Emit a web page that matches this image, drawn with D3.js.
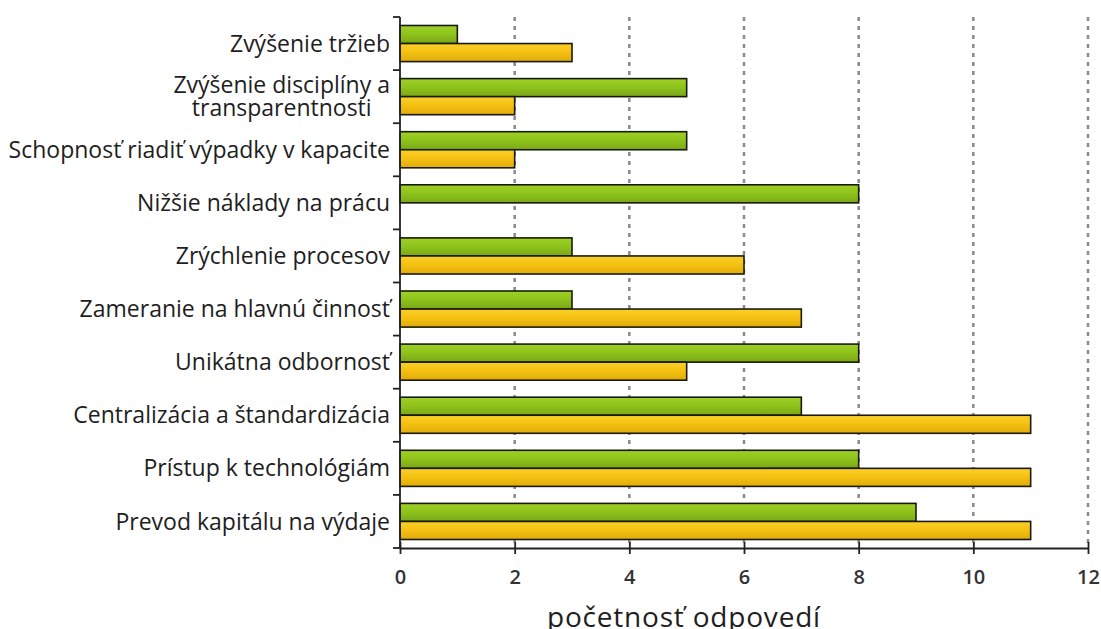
<!DOCTYPE html>
<html>
<head>
<meta charset="utf-8">
<script src="https://cdn.jsdelivr.net/npm/d3@7"></script>
<style>
  html, body { margin: 0; padding: 0; background: #fff; }
  svg { display: block; }
</style>
</head>
<body>
<svg id="chart" width="1101" height="629"></svg>
<script>
// Response categories (top to bottom); multi-line labels use "\n"
const categories = [
  "Zvýšenie tržieb",
  "Zvýšenie disciplíny a\ntransparentnosti",
  "Schopnosť riadiť výpadky v kapacite",
  "Nižšie náklady na prácu",
  "Zrýchlenie procesov",
  "Zameranie na hlavnú činnosť",
  "Unikátna odbornosť",
  "Centralizácia a štandardizácia",
  "Prístup k technológiám",
  "Prevod kapitálu na výdaje"
];
const greenValues  = [1, 5, 5, 8, 3, 3, 8, 7, 8, 9];
const yellowValues = [3, 2, 2, 0, 6, 7, 5, 11, 11, 11];
const xTicks = [0, 2, 4, 6, 8, 10, 12];
const xTitle = "početnosť odpovedí";

const svg = d3.select("#chart");
const margin = { left: 400, right: 13, top: 17, bottom: 81 };
const W = 1101, H = 629;
const plotW = W - margin.left - margin.right;
const plotH = H - margin.top - margin.bottom;

const defs = svg.append("defs");
function grad(id, top, mid, bottom) {
  const g = defs.append("linearGradient").attr("id", id)
    .attr("x1", 0).attr("y1", 0).attr("x2", 0).attr("y2", 1);
  g.append("stop").attr("offset", "0%").attr("stop-color", top);
  g.append("stop").attr("offset", "45%").attr("stop-color", mid);
  g.append("stop").attr("offset", "100%").attr("stop-color", bottom);
}
grad("gGreen", "#9fd127", "#8fc41c", "#7aa816");
grad("gYellow", "#fbd02a", "#f5c212", "#e0ab0a");

const g = svg.append("g").attr("transform", `translate(${margin.left},${margin.top})`);

const x = d3.scaleLinear().domain([0, 12]).range([0, plotW]);
const y = d3.scaleBand().domain(categories).range([0, plotH])
  .paddingInner(0.32).paddingOuter(0.16);
const sub = d3.scaleBand().domain(["green", "yellow"]).range([0, y.bandwidth()]);

// dotted vertical gridlines
g.selectAll("line.grid").data(xTicks.filter(t => t > 0)).join("line")
  .attr("class", "grid")
  .attr("x1", d => x(d)).attr("x2", d => x(d))
  .attr("y1", 0).attr("y2", plotH)
  .attr("stroke", "#8a8a8a").attr("stroke-width", 2.5)
  .attr("stroke-dasharray", "4,5");

const rows = categories.map((c, i) => ({ c, green: greenValues[i], yellow: yellowValues[i] }));

const groups = g.selectAll("g.row").data(rows).join("g")
  .attr("class", "row")
  .attr("transform", d => `translate(0,${y(d.c)})`);

groups.filter(d => d.green > 0).append("rect")
  .attr("x", x(0)).attr("y", sub("green"))
  .attr("width", d => x(d.green) - x(0)).attr("height", sub.bandwidth())
  .attr("fill", "url(#gGreen)").attr("stroke", "#1a1a0a").attr("stroke-width", 1.6);

groups.filter(d => d.yellow > 0).append("rect")
  .attr("x", x(0)).attr("y", sub("yellow"))
  .attr("width", d => x(d.yellow) - x(0)).attr("height", sub.bandwidth())
  .attr("fill", "url(#gYellow)").attr("stroke", "#1a1a0a").attr("stroke-width", 1.6);

// y axis line with ticks at category boundaries
g.append("line").attr("x1", 0).attr("x2", 0).attr("y1", 0).attr("y2", plotH)
  .attr("stroke", "#222").attr("stroke-width", 1.8);
const bounds = categories.map(c => y(c) - y.step() * y.paddingInner() / 2).concat([plotH]);
bounds[0] = 0;
g.selectAll("line.ytick").data(bounds).join("line")
  .attr("class", "ytick")
  .attr("x1", -7).attr("x2", 0).attr("y1", d => d).attr("y2", d => d)
  .attr("stroke", "#222").attr("stroke-width", 1.8);

// category labels: right-aligned blocks, wrapped lines centred within the block
const labelFont = "'Open Sans', sans-serif";
const labelRight = -10;
const labels = g.selectAll("text.cat").data(categories).join("text")
  .attr("class", "cat")
  .attr("text-anchor", "middle")
  .attr("font-family", labelFont)
  .attr("font-size", 23)
  .attr("fill", "#1e1e1e");
labels.each(function (d) {
  const lines = d.split("\n");
  const cy = y(d) + y.bandwidth() / 2;
  const lh = 23;
  const sel = d3.select(this);
  const spans = lines.map((ln, k) => sel.append("tspan")
    .attr("y", cy + (k - (lines.length - 1) / 2) * lh)
    .attr("dy", "0.35em")
    .text(ln));
  const widest = d3.max(spans, s => s.node().getComputedTextLength());
  spans.forEach(s => s.attr("x", labelRight - widest / 2));
});

// x axis
const xAxis = g.append("g").attr("transform", `translate(0,${plotH})`)
  .call(d3.axisBottom(x).tickValues(xTicks).tickSize(6).tickPadding(16).tickSizeOuter(0));
xAxis.select(".domain").attr("stroke", "#222").attr("stroke-width", 1.8);
xAxis.selectAll(".tick line").attr("stroke", "#222").attr("stroke-width", 1.8).attr("y1", -6);
xAxis.selectAll(".tick text")
  .attr("font-family", labelFont).attr("font-size", 20).attr("font-weight", 600)
  .attr("fill", "#333");

// axis title
g.append("text")
  .attr("x", 284).attr("y", plotH + 79)
  .attr("text-anchor", "middle")
  .attr("font-family", labelFont).attr("font-size", 28)
  .attr("letter-spacing", 0.8)
  .attr("fill", "#1e1e1e")
  .text(xTitle);
</script>
</body>
</html>
